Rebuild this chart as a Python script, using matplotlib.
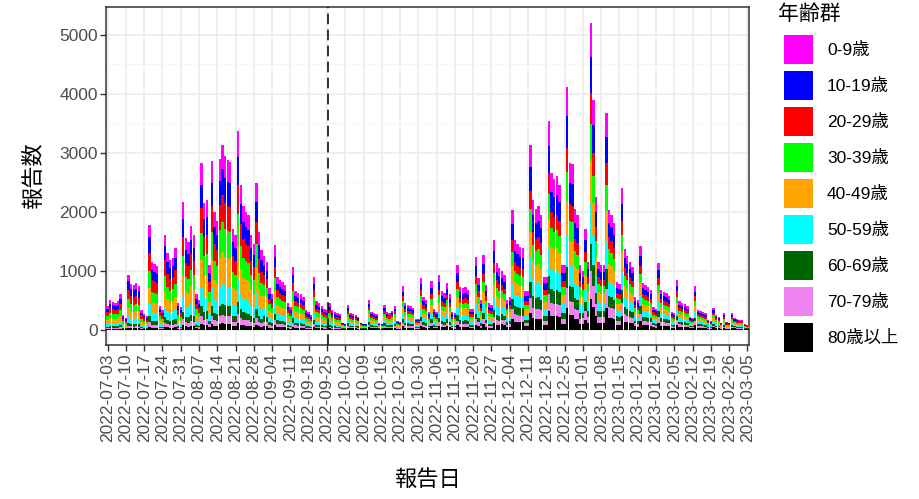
import numpy as np
import pandas as pd
import matplotlib
matplotlib.use("Agg")
import matplotlib.pyplot as plt
from matplotlib.patches import Rectangle

plt.rcParams['font.family'] = ['Liberation Sans', 'Noto Sans CJK JP', 'DejaVu Sans']

# daily reports, 2022-07-03 (Sun) .. 2023-03-05 (Sun), one row per week Sun..Sat
dates = pd.date_range('2022-07-03', '2023-03-05', freq='D')
totals = [
    400, 500, 470, 460, 480, 600, 250,
    200, 930, 780, 760, 790, 740, 330,
    260, 230, 1780, 1150, 1120, 1080, 400,
    330, 1610, 1300, 1180, 1220, 1380, 450,
    380, 2160, 1550, 1480, 1750, 1600, 600,
    500, 2825, 2150, 2200, 1100, 2865, 2000,
    1850, 2900, 3135, 2950, 2880, 2850, 1700,
    1600, 3370, 2450, 2100, 2000, 1950, 1600,
    1450, 2490, 1650, 1350, 1250, 1150, 700,
    600, 1440, 900, 850, 800, 760, 450,
    380, 1070, 660, 620, 600, 560, 330,
    300, 250, 900, 480, 450, 400, 350,
    330, 450, 330, 300, 280, 260, 120,
    100, 420, 280, 260, 250, 220, 120,
    100, 100, 500, 300, 280, 260, 110,
    100, 420, 300, 290, 320, 400, 140,
    130, 735, 450, 420, 400, 370, 180,
    180, 875, 560, 500, 300, 820, 350,
    300, 920, 650, 620, 790, 600, 300,
    280, 1100, 730, 700, 720, 680, 350,
    350, 1240, 880, 500, 1270, 760, 450,
    420, 1525, 1130, 1050, 1000, 920, 500,
    550, 2030, 1520, 1450, 1400, 1380, 650,
    650, 3135, 2200, 2050, 2100, 1950, 900,
    900, 3530, 2650, 2550, 2600, 2450, 1100,
    1100, 4110, 2830, 2800, 2050, 1950, 1100,
    1000, 1700, 1150, 5200, 3900, 2250, 1150,
    1100, 1100, 3670, 2030, 1950, 1800, 800,
    780, 2400, 1360, 1250, 1150, 1070, 550,
    500, 1410, 790, 760, 720, 680, 380,
    350, 1130, 680, 640, 620, 570, 300,
    280, 850, 480, 460, 440, 400, 220,
    200, 735, 340, 320, 300, 280, 160,
    150, 370, 250, 220, 120, 280, 130,
    120, 280, 200, 180, 170, 160, 90,
    80,
]

age_groups = ['0-9歳', '10-19歳', '20-29歳', '30-39歳', '40-49歳',
              '50-59歳', '60-69歳', '70-79歳', '80歳以上']
colors = ['#FF00FF', '#0000FF', '#FF0000', '#00FF00', '#FFA500',
          '#00FFFF', '#006400', '#EE82EE', '#000000']

# age share (%) of each month's reports
months = ['2022-07', '2022-08', '2022-09', '2022-10', '2022-11',
          '2022-12', '2023-01', '2023-02', '2023-03']
share_0_9 = [12, 13, 14, 12, 13, 12, 11, 12, 12]
share_10_19 = [15, 14, 12, 11, 13, 13, 12, 11, 11]
share_20_29 = [17, 15, 13, 12, 11, 10, 10, 11, 11]
share_30_39 = [16, 16, 15, 13, 13, 12, 12, 12, 12]
share_40_49 = [16, 17, 16, 14, 15, 14, 14, 13, 13]
share_50_59 = [11, 11, 12, 13, 13, 13, 13, 13, 13]
share_60_69 = [6, 6, 7, 9, 8, 9, 9, 9, 9]
share_70_79 = [4, 4.5, 6, 8, 7, 8, 9, 9, 9]
share_80 = [3, 3.5, 5, 8, 7, 9, 10, 10, 10]
shares = [share_0_9, share_10_19, share_20_29, share_30_39, share_40_49,
          share_50_59, share_60_69, share_70_79, share_80]

totals = np.array(totals, dtype=float)
month_idx = [months.index(d.strftime('%Y-%m')) for d in dates]
x = np.arange(len(dates))
share_sum = np.array([sum(sh[m] for sh in shares) for m in range(len(months))])

W, H = 920, 499
fig = plt.figure(figsize=(W / 100, H / 100), dpi=100)
ax = fig.add_axes([106 / W, 1 - 345 / H, (749 - 106) / W, (345 - 7) / H])

# stack from the bottom: 80+ first, 0-9 on top
bottom = np.zeros(len(dates))
for k in range(len(age_groups) - 1, -1, -1):
    s = np.array(shares[k], dtype=float)
    vals = totals * (s / share_sum)[month_idx]
    ax.bar(x, vals, bottom=bottom, width=0.9, color=colors[k], linewidth=0, zorder=3)
    bottom += vals

ax.axvline(84.5, color='black', linestyle=(0, (7, 3.5)), linewidth=1.1, zorder=4)

ax.set_xlim(-0.6, len(dates) - 0.4)
ax.set_ylim(-260, 5470)
ax.set_xticks(x[::7])
ax.set_xticklabels([d.strftime('%Y-%m-%d') for d in dates[::7]], rotation=90)
ax.set_yticks([0, 1000, 2000, 3000, 4000, 5000])
ax.set_yticks([500, 1500, 2500, 3500, 4500], minor=True)
ax.tick_params(axis='both', which='major', length=4, width=1, color='#333333',
               labelcolor='#4D4D4D', labelsize=12.5, pad=2)
ax.tick_params(axis='y', which='minor', length=0)
ax.grid(True, which='major', color='#EBEBEB', linewidth=1.1, zorder=0)
ax.grid(True, which='minor', axis='y', color='#F4F4F4', linewidth=0.6, zorder=0)
ax.set_axisbelow(True)
for sp in ax.spines.values():
    sp.set_color('#333333')
    sp.set_linewidth(1.1)

ax.set_xlabel('報告日', fontsize=16, labelpad=20)
ax.set_ylabel('報告数', fontsize=16, labelpad=10)

# legend
fig.text(778 / W, 1 - 14 / H, '年齢群', fontsize=15, va='center', ha='left')
for i, (lab, col) in enumerate(zip(age_groups, colors)):
    top = 35 + 36 * i
    fig.add_artist(Rectangle((784 / W, 1 - (top + 29) / H), 29 / W, 29 / H,
                             transform=fig.transFigure, facecolor=col, edgecolor='none'))
    fig.text(827 / W, 1 - (top + 14.5) / H, lab, fontsize=12.5, va='center', ha='left')

fig.savefig('out.png', dpi=100)
